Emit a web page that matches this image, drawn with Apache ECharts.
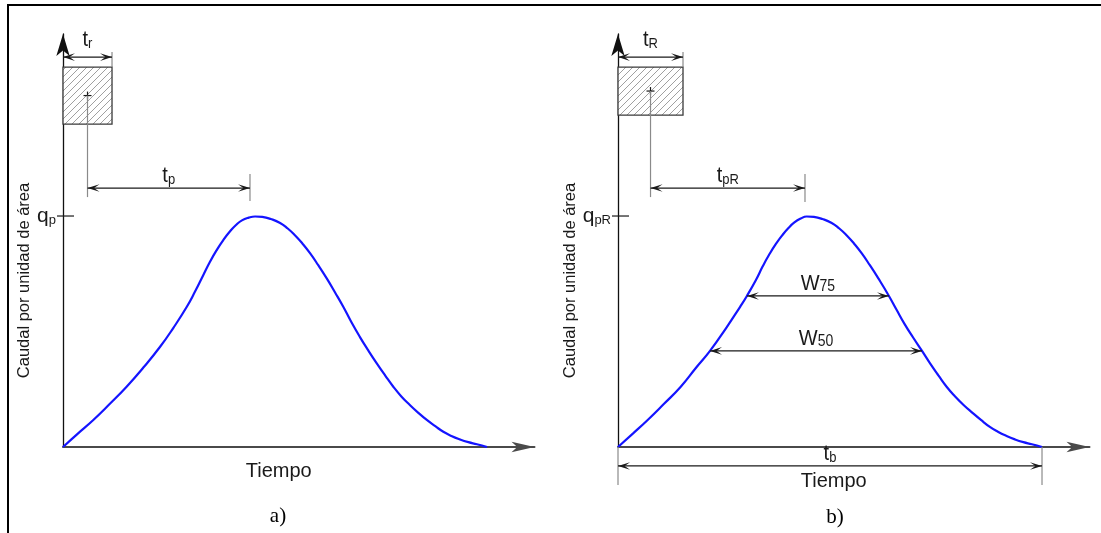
<!DOCTYPE html>
<html><head><meta charset="utf-8">
<script src="https://cdn.jsdelivr.net/npm/echarts@6/dist/echarts.min.js"></script>
<style>html,body{margin:0;padding:0;background:#fff}#c{width:1101px;height:533px}</style>
</head><body><div id="c"></div>
<script>
// ---------------- DATA (time units: tb = 10, flow units: peak = 1) ----------------
const curveTimeA = [0, 0.35, 0.715, 1.10, 1.50, 1.90, 2.29, 2.60, 2.92, 3.12, 3.31, 3.47, 3.62, 3.78, 3.94, 4.08, 4.22, 4.38, 4.53, 4.70, 4.90, 5.12, 5.30, 5.47, 5.65, 5.83, 6.02, 6.22, 6.42, 6.61, 6.80, 7.00, 7.20, 7.40, 7.60, 7.79, 7.98, 8.18, 8.38, 8.58, 8.78, 8.97, 9.16, 9.36, 9.56, 9.76, 10];
const curveFlowA = [0, 0.058, 0.117, 0.186, 0.261, 0.345, 0.434, 0.515, 0.607, 0.675, 0.745, 0.803, 0.851, 0.896, 0.934, 0.961, 0.981, 0.993, 0.998, 0.996, 0.987, 0.970, 0.946, 0.917, 0.880, 0.838, 0.787, 0.730, 0.668, 0.607, 0.541, 0.477, 0.418, 0.362, 0.309, 0.261, 0.219, 0.182, 0.148, 0.117, 0.090, 0.066, 0.048, 0.033, 0.021, 0.012, 0];
const curveTimeB = [0, 0.35, 0.70, 1.08, 1.48, 1.85, 2.17, 2.55, 2.88, 3.04, 3.25, 3.41, 3.56, 3.72, 3.88, 4.02, 4.16, 4.31, 4.45, 4.62, 4.82, 5.04, 5.22, 5.39, 5.57, 5.75, 5.94, 6.14, 6.39, 6.57, 6.76, 6.96, 7.17, 7.36, 7.56, 7.75, 7.95, 8.15, 8.36, 8.56, 8.77, 8.96, 9.16, 9.36, 9.56, 9.76, 10];
const curveFlowB = [0, 0.058, 0.117, 0.186, 0.261, 0.345, 0.416, 0.515, 0.607, 0.654, 0.722, 0.781, 0.831, 0.878, 0.918, 0.948, 0.972, 0.989, 0.998, 0.996, 0.987, 0.970, 0.946, 0.917, 0.880, 0.838, 0.787, 0.730, 0.654, 0.594, 0.532, 0.474, 0.416, 0.362, 0.309, 0.261, 0.219, 0.182, 0.148, 0.117, 0.087, 0.066, 0.048, 0.033, 0.021, 0.012, 0];

const peakFlowA = 1.0, peakFlowB = 1.0;            // q_p, q_pR
const peakLabelA = ['q', 'p'];
const peakLabelB = ['q', 'pR'];

// rainfall blocks: [tStart, tEnd, qBottom, qTop]
const rainA = [0, 1.156, 1.398, 1.645];
const rainB = [0, 1.533, 1.437, 1.645];

// dimension arrows: [tStart, tEnd, q, main, sub]
const dimsA = [[0, 1.156, 1.688, 't', 'r'], [0.578, 4.41, 1.121, 't', 'p']];
const dimsB = [[0, 1.533, 1.688, 't', 'R'], [0.767, 4.41, 1.121, 't', 'pR'],
               [3.04, 6.39, 0.654, 'W', '75'], [2.17, 7.17, 0.416, 'W', '50'], [0, 10, -0.082, 't', 'b']];

// extension / leader lines: [t, qFrom, qTo]
const extA = [[1.156, 1.645, 1.71], [0.578, 1.521, 1.082], [4.41, 1.065, 1.182]];
const extB = [[1.533, 1.645, 1.71], [0.767, 1.541, 1.082], [4.41, 1.061, 1.182], [0, 0, -0.165], [10, 0, -0.165]];

const xName = 'Tiempo';
const yName = 'Caudal por unidad de área';
const panelTitles = ['a)', 'b)'];

// ---------------- RENDERING ----------------
const X_MAX = 11.12, Y_MAX = 1.788;
const FONT = '"Liberation Sans", Arial, sans-serif';
const INK = '#1a1a1a';

const hc = document.createElement('canvas'); hc.width = 7; hc.height = 7;
const g = hc.getContext('2d');
g.fillStyle = '#fff'; g.fillRect(0, 0, 7, 7);
g.strokeStyle = '#a0a0a0'; g.lineWidth = 1;
g.beginPath(); g.moveTo(0, 7); g.lineTo(7, 0); g.moveTo(-1, 1); g.lineTo(1, -1); g.moveTo(6, 8); g.lineTo(8, 6); g.stroke();
const hatch = { image: hc, repeat: 'repeat' };

function arrowHead(x, y, dir) {
  const L = 12, hw = 3.8;
  return { type: 'polygon', shape: { points: [[x, y], [x - dir * L, y - hw], [x - dir * L * 0.55, y], [x - dir * L, y + hw]] },
           style: { fill: INK } };
}
function subText(x, y, main, sub, big, small) {
  return { type: 'text', x: x, y: y, scaleY: 1.12,
    style: { text: '{m|' + main + '}{s|' + sub + '}', align: 'center', verticalAlign: 'bottom',
      rich: { m: { fontSize: big, lineHeight: big, fontFamily: FONT, fill: INK, verticalAlign: 'bottom' },
              s: { fontSize: small, lineHeight: small, fontFamily: FONT, fill: INK, verticalAlign: 'bottom' } } } };
}
function makeRenderer(rain, dims, ext, qp) {
  return function (params, api) {
    const c = (t, q) => api.coord([t, q]);
    const kids = [];
    const a = c(rain[0], rain[3]), b = c(rain[1], rain[2]);
    kids.push({ type: 'rect', shape: { x: a[0], y: a[1], width: b[0] - a[0], height: b[1] - a[1] },
      style: { fill: hatch, stroke: '#3a3a3a', lineWidth: 1.3 } });
    const ct = c((rain[0] + rain[1]) / 2, (rain[2] + rain[3]) / 2);
    kids.push({ type: 'line', shape: { x1: ct[0] - 4, y1: ct[1], x2: ct[0] + 4, y2: ct[1] }, style: { stroke: INK, lineWidth: 1.2 } });
    kids.push({ type: 'line', shape: { x1: ct[0], y1: ct[1] - 4, x2: ct[0], y2: ct[1] + 4 }, style: { stroke: INK, lineWidth: 1.2 } });
    ext.forEach(e => {
      const s = c(e[0], e[1]), f = c(e[0], e[2]);
      kids.push({ type: 'line', shape: { x1: s[0], y1: s[1], x2: f[0], y2: f[1] }, style: { stroke: '#8a8a8a', lineWidth: 1.2 } });
    });
    dims.forEach(d => {
      const s = c(d[0], d[2]), f = c(d[1], d[2]);
      kids.push({ type: 'line', shape: { x1: s[0], y1: s[1], x2: f[0], y2: f[1] }, style: { stroke: INK, lineWidth: 1.2 } });
      kids.push(arrowHead(s[0], s[1], -1));
      kids.push(arrowHead(f[0], f[1], 1));
      const big = 20, small = d[3] === 'W' ? 14 : 13;
      const gap = d[2] > 1.5 ? 6 : 1;
      kids.push(subText((s[0] + f[0]) / 2, s[1] - gap, d[3], d[4], big, small));
    });
    const p = c(0, qp);
    kids.push({ type: 'line', shape: { x1: p[0] - 6, y1: p[1], x2: p[0] + 11, y2: p[1] }, style: { stroke: INK, lineWidth: 1.2 } });
    return { type: 'group', children: kids };
  };
}
function xAxisCfg(gi, gap) {
  return { gridIndex: gi, type: 'value', min: 0, max: X_MAX,
    axisLine: { show: true, onZero: false, symbol: ['none', 'arrow'], symbolSize: [8, 23], lineStyle: { color: '#4a4a4a', width: 2 } },
    axisTick: { show: false }, axisLabel: { show: false }, splitLine: { show: false },
    name: xName, nameLocation: 'middle', nameGap: gap,
    nameTextStyle: { fontSize: 20, fontFamily: FONT, color: INK, padding: [0, 40, 0, 0] } };
}
function yAxisCfg(gi, gap, qp, lab) {
  return { gridIndex: gi, type: 'value', min: 0, max: Y_MAX,
    axisLine: { show: true, onZero: false, symbol: ['none', 'arrow'], symbolSize: [10, 22], lineStyle: { color: '#111', width: 1.3 } },
    axisTick: { show: false }, splitLine: { show: false },
    axisLabel: { show: true, customValues: [qp], margin: 7, formatter: () => '{m|' + lab[0] + '}{s|' + lab[1] + '}',
      rich: { m: { fontSize: 21, fontFamily: FONT, color: INK, verticalAlign: 'bottom', lineHeight: 21 },
              s: { fontSize: 13, fontFamily: FONT, color: INK, verticalAlign: 'bottom', lineHeight: 13 } } },
    name: yName, nameLocation: 'middle', nameGap: gap,
    nameTextStyle: { fontSize: 16.5, fontFamily: FONT, color: INK, padding: [0, 80, 0, 0] } };
}

const chart = echarts.init(document.getElementById('c'), null, { renderer: 'canvas' });
chart.setOption({
  animation: false,
  backgroundColor: '#fff',
  grid: [
    { left: 63, top: 34, width: 471.5, height: 413, containLabel: false, outerBoundsMode: 'none' },
    { left: 618, top: 34, width: 471.5, height: 413, containLabel: false, outerBoundsMode: 'none' }
  ],
  xAxis: [xAxisCfg(0, 14), xAxisCfg(1, 24)],
  yAxis: [yAxisCfg(0, 30, peakFlowA, peakLabelA), yAxisCfg(1, 39, peakFlowB, peakLabelB)],
  series: [
    { type: 'line', xAxisIndex: 0, yAxisIndex: 0, data: curveTimeA.map((t, i) => [t, curveFlowA[i]]),
      smooth: 0.5, showSymbol: false, lineStyle: { color: '#1414ff', width: 2.2 }, z: 3 },
    { type: 'line', xAxisIndex: 1, yAxisIndex: 1, data: curveTimeB.map((t, i) => [t, curveFlowB[i]]),
      smooth: 0.5, showSymbol: false, lineStyle: { color: '#1414ff', width: 2.2 }, z: 3 },
    { type: 'custom', xAxisIndex: 0, yAxisIndex: 0, clip: false, silent: true, data: [[0, 0]],
      renderItem: makeRenderer(rainA, dimsA, extA, peakFlowA), z: 4 },
    { type: 'custom', xAxisIndex: 1, yAxisIndex: 1, clip: false, silent: true, data: [[0, 0]],
      renderItem: makeRenderer(rainB, dimsB, extB, peakFlowB), z: 4 }
  ],
  graphic: [
    { type: 'rect', shape: { x: 7, y: 4, width: 2, height: 529 }, style: { fill: '#000' } },
    { type: 'rect', shape: { x: 7, y: 4, width: 1094, height: 2 }, style: { fill: '#000' } },
    { type: 'text', x: 278, y: 516, style: { text: panelTitles[0], font: '21px "Liberation Serif", serif', align: 'center', verticalAlign: 'middle', fill: '#000' } },
    { type: 'text', x: 835, y: 517, style: { text: panelTitles[1], font: '21px "Liberation Serif", serif', align: 'center', verticalAlign: 'middle', fill: '#000' } }
  ]
});
</script></body></html>
